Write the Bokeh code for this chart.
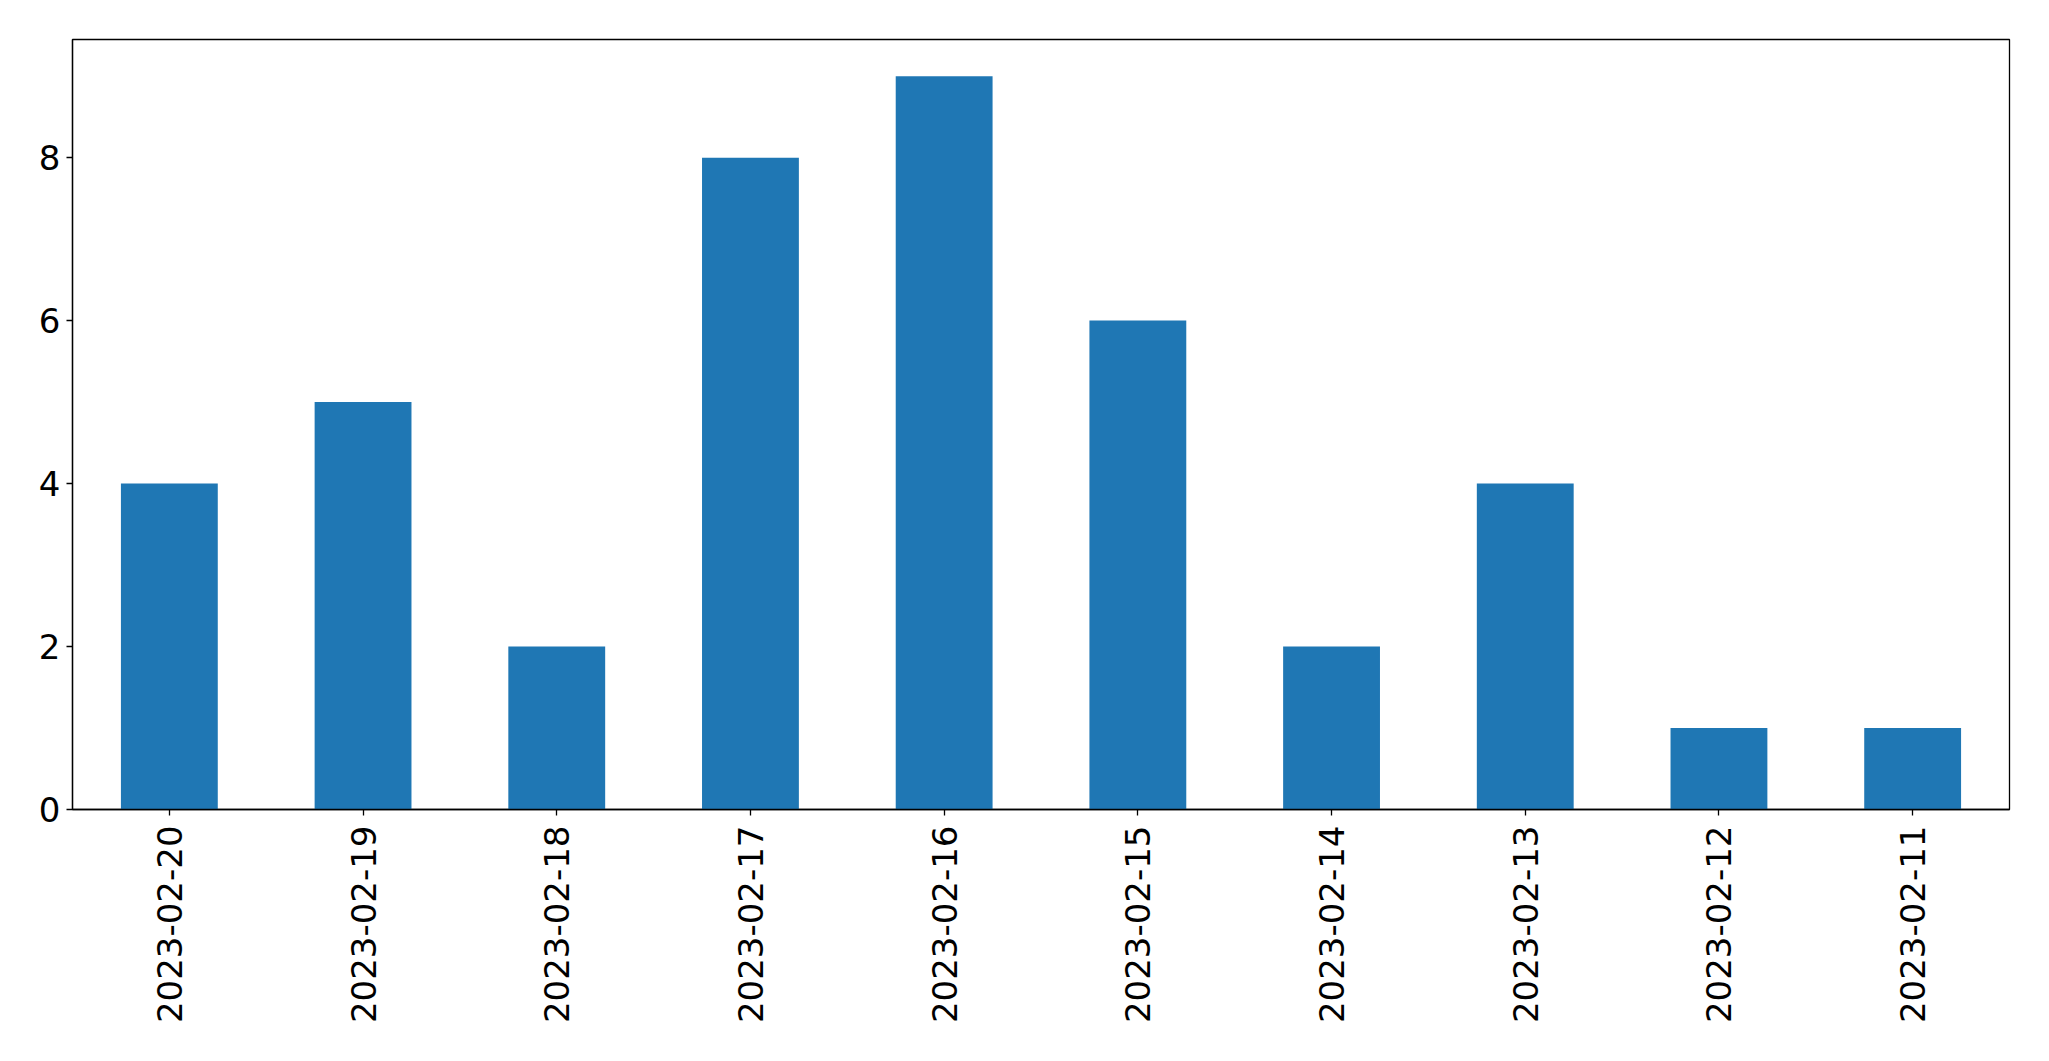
import math
from bokeh.plotting import figure
from bokeh.models import Range1d, FactorRange, FixedTicker, ColumnDataSource
from bokeh.embed import file_html
from bokeh.resources import INLINE

dates = ["2023-02-20", "2023-02-19", "2023-02-18", "2023-02-17", "2023-02-16",
         "2023-02-15", "2023-02-14", "2023-02-13", "2023-02-12", "2023-02-11"]
counts = [4, 5, 2, 8, 9, 6, 2, 4, 1, 1]
y_ticks = [0, 2, 4, 6, 8]

src = ColumnDataSource(dict(x=dates, top=counts))

p = figure(width=2033, height=1045, output_backend="svg", toolbar_location=None,
           x_range=FactorRange(factors=dates, range_padding=0),
           y_range=Range1d(0, 9.45))
p.min_border_left = 72
p.min_border_right = 24
p.min_border_top = 39
p.min_border_bottom = 236

p.vbar(x="x", top="top", bottom=0, width=0.5, source=src,
       fill_color="#1f77b4", line_color=None)

p.xgrid.grid_line_color = None
p.ygrid.grid_line_color = None
p.outline_line_color = "black"
p.outline_line_width = 1.3
p.background_fill_color = "white"
p.border_fill_color = "white"

for ax in (p.xaxis[0], p.yaxis[0]):
    ax.major_label_text_font = "DejaVu Sans"
    ax.major_label_text_font_size = "34px"
    ax.major_label_text_color = "black"
    ax.axis_line_color = "black"
    ax.axis_line_width = 1.3
    ax.major_tick_line_color = "black"
    ax.major_tick_line_width = 1.3
    ax.major_tick_out = 6
    ax.major_tick_in = 0
    ax.minor_tick_line_color = None

p.yaxis[0].ticker = FixedTicker(ticks=y_ticks)
p.yaxis[0].major_label_standoff = 6
p.xaxis[0].major_label_orientation = math.pi / 2
p.xaxis[0].major_label_standoff = 10

open("out.html", "w").write(file_html(p, INLINE))
